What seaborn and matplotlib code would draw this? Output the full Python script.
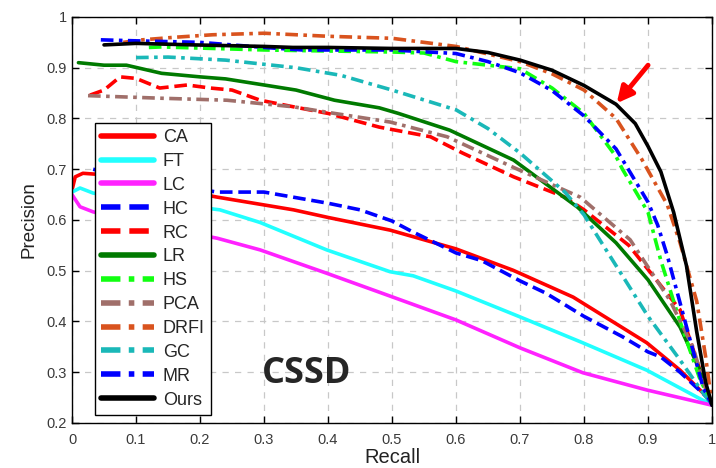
import matplotlib
matplotlib.use("Agg")
import matplotlib.pyplot as plt
import pandas as pd
import seaborn as sns

# PR curves (CSSD dataset)
ca_r = [0.0, 0.005, 0.017, 0.04, 0.10, 0.227, 0.346, 0.40, 0.497, 0.60, 0.689, 0.783, 0.898, 0.95, 0.997, 1.0]
ca_p = [0.659, 0.685, 0.692, 0.69, 0.675, 0.645, 0.62, 0.605, 0.58, 0.543, 0.501, 0.448, 0.358, 0.304, 0.245, 0.235]

ft_r = [0.0, 0.0125, 0.033, 0.10, 0.231, 0.294, 0.398, 0.497, 0.533, 0.60, 0.70, 0.798, 0.898, 1.0]
ft_p = [0.655, 0.663, 0.653, 0.64, 0.62, 0.595, 0.541, 0.498, 0.49, 0.46, 0.409, 0.358, 0.304, 0.235]

lc_r = [0.0, 0.0125, 0.033, 0.10, 0.227, 0.294, 0.398, 0.497, 0.60, 0.70, 0.798, 0.898, 1.0]
lc_p = [0.65, 0.626, 0.616, 0.595, 0.564, 0.541, 0.495, 0.45, 0.403, 0.348, 0.299, 0.265, 0.235]

hc_r = [0.033, 0.10, 0.20, 0.227, 0.30, 0.40, 0.45, 0.50, 0.53, 0.60, 0.64, 0.70, 0.74, 0.80, 0.86, 0.90, 0.92, 0.95, 0.997, 1.0]
hc_p = [0.70, 0.68, 0.66, 0.655, 0.655, 0.633, 0.62, 0.598, 0.578, 0.535, 0.52, 0.48, 0.456, 0.41, 0.37, 0.34, 0.33, 0.30, 0.245, 0.235]

rc_r = [0.028, 0.05, 0.075, 0.10, 0.137, 0.18, 0.216, 0.25, 0.294, 0.346, 0.40, 0.48, 0.56, 0.61, 0.69, 0.77, 0.80, 0.87, 0.95, 0.99, 1.0]
rc_p = [0.846, 0.856, 0.882, 0.879, 0.86, 0.866, 0.86, 0.856, 0.836, 0.823, 0.81, 0.783, 0.764, 0.732, 0.685, 0.645, 0.62, 0.55, 0.423, 0.27, 0.235]

lr_r = [0.01, 0.05, 0.085, 0.14, 0.20, 0.24, 0.30, 0.35, 0.41, 0.48, 0.51, 0.59, 0.69, 0.79, 0.85, 0.90, 0.95, 0.986, 1.0]
lr_p = [0.91, 0.905, 0.905, 0.889, 0.882, 0.878, 0.866, 0.856, 0.836, 0.821, 0.81, 0.777, 0.718, 0.625, 0.555, 0.482, 0.389, 0.29, 0.235]

hs_r = [0.12, 0.14, 0.30, 0.50, 0.55, 0.60, 0.65, 0.70, 0.75, 0.80, 0.85, 0.86, 0.90, 0.92, 0.95, 0.98, 1.0]
hs_p = [0.94, 0.941, 0.935, 0.931, 0.929, 0.912, 0.905, 0.898, 0.86, 0.81, 0.725, 0.70, 0.615, 0.52, 0.40, 0.29, 0.235]

pca_r = [0.025, 0.137, 0.242, 0.346, 0.40, 0.497, 0.586, 0.689, 0.794, 0.872, 0.934, 0.97, 0.992, 1.0]
pca_p = [0.845, 0.84, 0.836, 0.823, 0.812, 0.793, 0.764, 0.704, 0.645, 0.561, 0.442, 0.35, 0.259, 0.235]

drfi_r = [0.08, 0.11, 0.16, 0.22, 0.30, 0.40, 0.50, 0.60, 0.70, 0.75, 0.80, 0.85, 0.89, 0.93, 0.95, 0.976, 0.99, 1.0]
drfi_p = [0.95, 0.955, 0.96, 0.965, 0.968, 0.962, 0.958, 0.942, 0.912, 0.888, 0.856, 0.80, 0.72, 0.63, 0.555, 0.44, 0.33, 0.235]

gc_r = [0.10, 0.15, 0.24, 0.35, 0.42, 0.50, 0.60, 0.65, 0.70, 0.77, 0.80, 0.85, 0.90, 0.95, 0.986, 1.0]
gc_p = [0.92, 0.921, 0.915, 0.90, 0.885, 0.856, 0.817, 0.78, 0.732, 0.655, 0.61, 0.51, 0.41, 0.324, 0.259, 0.235]

mr_r = [0.045, 0.10, 0.20, 0.30, 0.36, 0.50, 0.60, 0.65, 0.70, 0.75, 0.80, 0.85, 0.90, 0.915, 0.93, 0.96, 0.986, 1.0]
mr_p = [0.955, 0.953, 0.95, 0.94, 0.935, 0.935, 0.928, 0.912, 0.89, 0.855, 0.805, 0.74, 0.635, 0.59, 0.53, 0.39, 0.27, 0.235]

ours_r = [0.05, 0.10, 0.19, 0.30, 0.345, 0.40, 0.50, 0.60, 0.65, 0.70, 0.75, 0.80, 0.85, 0.88, 0.90, 0.92, 0.94, 0.96, 0.976, 0.99, 1.0]
ours_p = [0.945, 0.948, 0.945, 0.942, 0.94, 0.94, 0.938, 0.938, 0.93, 0.915, 0.895, 0.865, 0.828, 0.79, 0.745, 0.695, 0.615, 0.51, 0.38, 0.28, 0.235]

methods = ["CA", "FT", "LC", "HC", "RC", "LR", "HS", "PCA", "DRFI", "GC", "MR", "Ours"]
recalls = [ca_r, ft_r, lc_r, hc_r, rc_r, lr_r, hs_r, pca_r, drfi_r, gc_r, mr_r, ours_r]
precisions = [ca_p, ft_p, lc_p, hc_p, rc_p, lr_p, hs_p, pca_p, drfi_p, gc_p, mr_p, ours_p]

colors = ["#ff0000", "#22ffff", "#ff22ff", "#0000ff", "#ff0000", "#007a00",
          "#11ff11", "#a06f6a", "#d9531e", "#1ab8b8", "#0000ff", "#000000"]
dash = (3.5, 1.6)
dashdot = (3.5, 1.5, 1.0, 1.5)
styles = [None, None, None, dash, dash, None, dashdot, dashdot, dashdot, dashdot, dashdot, None]

sns.set_style("white")
plt.rcParams["font.family"] = ["Liberation Sans", "DejaVu Sans"]

fig = plt.figure(figsize=(7.16, 4.68), dpi=100)
ax = fig.add_axes([0.1006, 0.0962, 0.8939, 0.8675])

for name, r, p, c, st in zip(methods, recalls, precisions, colors, styles):
    df = pd.DataFrame({"Recall": r, "Precision": p})
    sns.lineplot(data=df, x="Recall", y="Precision", ax=ax, color=c,
                 estimator=None, sort=False, linewidth=2.6, label=name)
    if st is not None:
        ax.lines[-1].set_dashes(st)

ax.set_xlim(0, 1)
ax.set_ylim(0.2, 1)
ax.set_xticks([i / 10 for i in range(11)])
ax.set_xticklabels(["0"] + [f"{i / 10:.1f}" for i in range(1, 10)] + ["1"])
ax.set_yticks([i / 10 for i in range(2, 11)])
ax.set_yticklabels([f"{i / 10:.1f}" for i in range(2, 10)] + ["1"])
ax.tick_params(direction="in", length=5, width=1, top=True, right=True,
               bottom=True, left=True, labelsize=10.5, labelcolor="#3a3a3a", color="black")
ax.tick_params(axis="x", pad=7)
ax.grid(True, color="#c8c8c8", linestyle=(0, (5, 5)), linewidth=0.9)
for s in ax.spines.values():
    s.set_color("black")
    s.set_linewidth(1.0)

ax.set_xlabel("Recall", fontsize=14.5, color="#222222", labelpad=1)
ax.set_ylabel("Precision", fontsize=13.5, color="#222222", labelpad=7)

leg = ax.legend(loc="lower left", bbox_to_anchor=(0.036, 0.02), fontsize=13,
                frameon=True, fancybox=False, edgecolor="black", framealpha=1,
                handlelength=2.9, labelspacing=0.38, borderpad=0.35,
                handletextpad=0.5, borderaxespad=0)
leg.get_frame().set_linewidth(1.0)
for h in leg.get_lines():
    h.set_linewidth(4)
leg.set_zorder(5)

ax.text(0.366, 0.297, "CSSD", fontsize=26, fontweight="bold", ha="center",
        va="center", family=["Open Sans", "DejaVu Sans"])

ax.annotate("", xy=(0.851, 0.83), xytext=(0.9, 0.905),
            arrowprops=dict(arrowstyle="-|>", color="red", lw=3.5,
                            mutation_scale=24, shrinkA=0, shrinkB=0))

fig.savefig("out.png", dpi=100)
